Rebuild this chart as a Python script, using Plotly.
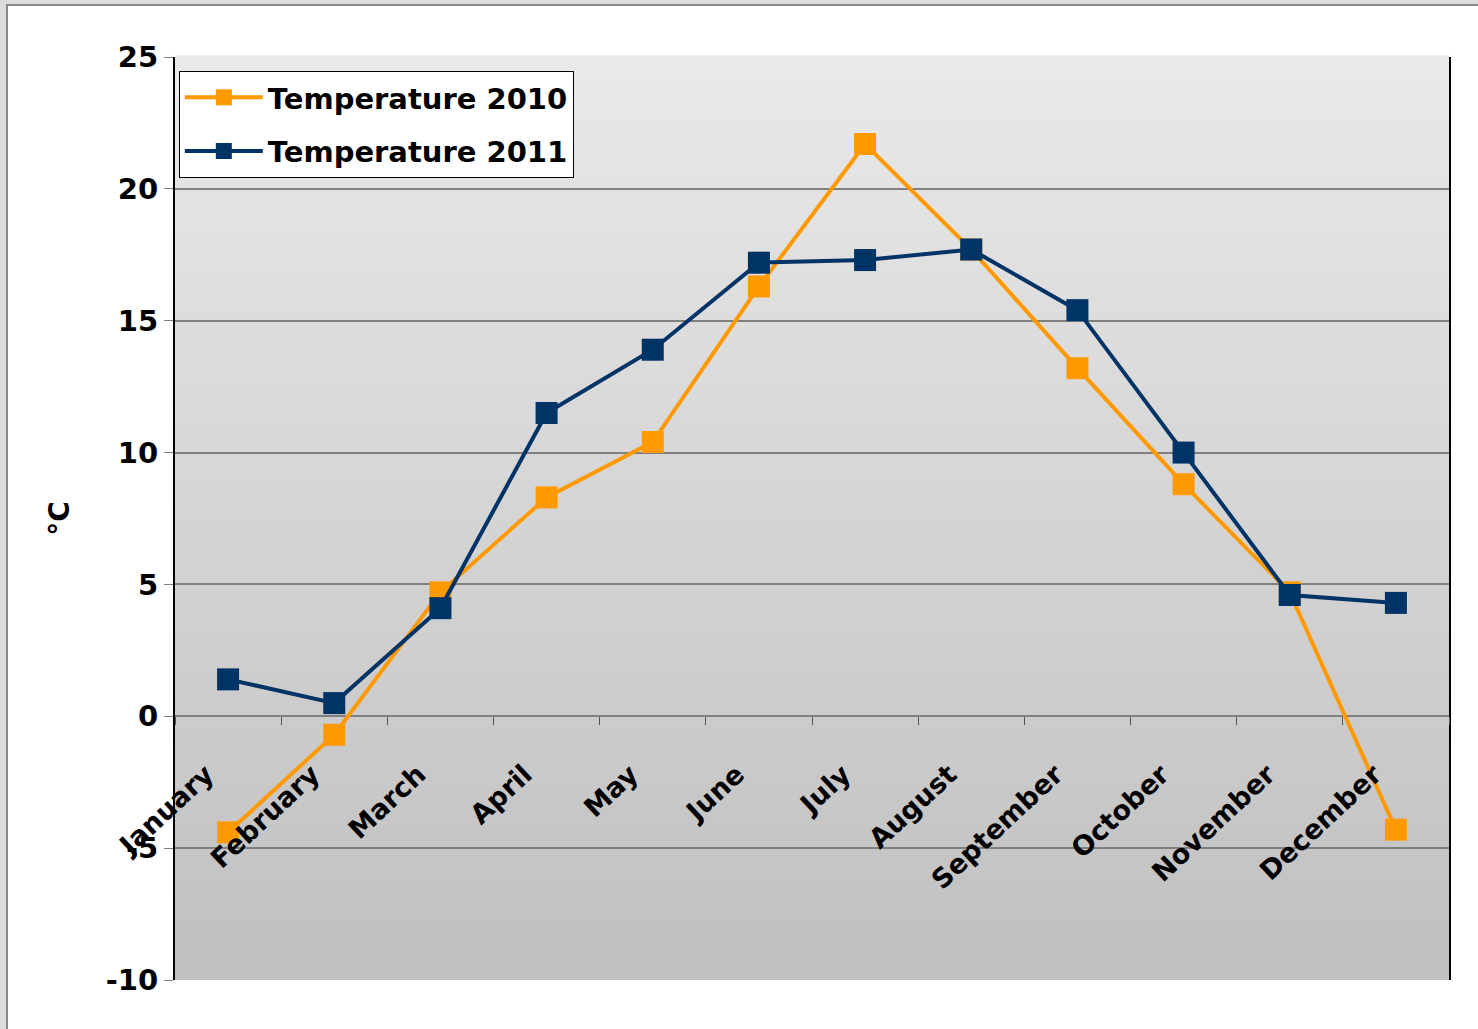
"""plot.py — monthly mean temperature, 2010 vs 2011, as an office-style line chart."""

from __future__ import annotations

import plotly.graph_objects as go

# ---------------------------------------------------------------------------
# Data
# ---------------------------------------------------------------------------

MONTHS = [
    "January", "February", "March", "April", "May", "June",
    "July", "August", "September", "October", "November", "December",
]
TEMP_2010 = [-4.4, -0.7, 4.7, 8.3, 10.4, 16.3, 21.7, 17.7, 13.2, 8.8, 4.7, -4.3]
TEMP_2011 = [1.4, 0.5, 4.1, 11.5, 13.9, 17.2, 17.3, 17.7, 15.4, 10.0, 4.6, 4.3]
Y_TICKS = [-10, -5, 0, 5, 10, 15, 20, 25]

# ---------------------------------------------------------------------------
# Style
# ---------------------------------------------------------------------------

COLOR_2010 = "#ff9900"
COLOR_2011 = "#003366"
COLOR_GRID = "#808080"
BG_TOP = (233, 233, 233)
BG_BOTTOM = (192, 192, 192)
FONT = "DejaVu Sans"

W, H = 1478, 1029
M_L, M_R, M_T, M_B = 175, 29, 57, 49


def _px_to_paper(px: float, py: float) -> tuple[float, float]:
    """Convert page pixels to paper coordinates of the plot area."""
    pw = W - M_L - M_R
    ph = H - M_T - M_B
    return (px - M_L) / pw, (H - M_B - py) / ph


def _gradient_shapes(n: int = 90) -> list[dict]:
    """Stack thin bands to fake the vertical grey gradient of the plot area."""
    shapes = []
    for i in range(n):
        t = i / (n - 1)
        rgb = [round(b + (a - b) * t) for a, b in zip(BG_TOP, BG_BOTTOM)]
        shapes.append(
            {
                "type": "rect",
                "xref": "paper",
                "yref": "paper",
                "x0": 0,
                "x1": 1,
                "y0": i / n,
                "y1": (i + 1) / n + 0.002,
                "fillcolor": "rgb({},{},{})".format(*rgb),
                "line": {"width": 0},
                "layer": "below",
            }
        )
    return shapes


def _frame_shapes() -> list[dict]:
    """White page with a grey frame on the left and top edges."""
    x0, y0 = _px_to_paper(7, 5)
    x1, y1 = _px_to_paper(W + 5, H + 5)
    return [
        {
            "type": "rect",
            "xref": "paper",
            "yref": "paper",
            "x0": x0,
            "x1": x1,
            "y0": y1,
            "y1": y0,
            "fillcolor": "white",
            "line": {"color": "#8a8a8a", "width": 2},
            "layer": "below",
        }
    ]


def _line_trace(name: str, values: list[float], color: str) -> go.Scatter:
    return go.Scatter(
        x=MONTHS,
        y=values,
        name=name,
        legendgroup=name,
        mode="lines+markers",
        line={"color": color, "width": 4},
        marker={"color": color, "symbol": "square", "size": 22},
    )


# ---------------------------------------------------------------------------
# Figure
# ---------------------------------------------------------------------------

fig = go.Figure(
    data=[
        _line_trace("Temperature 2010", TEMP_2010, COLOR_2010),
        _line_trace("Temperature 2011", TEMP_2011, COLOR_2011),
    ]
)

zero_pos = (0 - Y_TICKS[0]) / (Y_TICKS[-1] - Y_TICKS[0])

fig.update_layout(
    width=W,
    height=H,
    margin={"l": M_L, "r": M_R, "t": M_T, "b": M_B, "autoexpand": False},
    paper_bgcolor="#dcdcdc",
    plot_bgcolor="rgba(0,0,0,0)",
    font={"family": FONT, "color": "black", "weight": "bold"},
    shapes=_frame_shapes() + _gradient_shapes(),
    legend={
        "x": 0.003,
        "y": 0.985,
        "xanchor": "left",
        "yanchor": "top",
        "bgcolor": "white",
        "bordercolor": "black",
        "borderwidth": 1,
        "font": {"family": FONT, "size": 29, "weight": "bold"},
        "itemwidth": 78,
        "tracegroupgap": 13,
    },
    xaxis={
        "type": "category",
        "range": [-0.5, len(MONTHS) - 0.5],
        "anchor": "free",
        "position": zero_pos,
        "showgrid": False,
        "showline": False,
        "ticks": "outside",
        "tickson": "boundaries",
        "ticklen": 8,
        "tickcolor": "#555555",
        "tickangle": -43,
        "tickfont": {"family": FONT, "size": 27, "weight": "bold"},
        "ticklabelstandoff": 36,
        "ticklabelshift": -22,
        "automargin": False,
    },
    yaxis={
        "range": [Y_TICKS[0], Y_TICKS[-1]],
        "tickvals": Y_TICKS,
        "ticktext": [str(v) for v in Y_TICKS],
        "showgrid": True,
        "gridcolor": COLOR_GRID,
        "gridwidth": 1.5,
        "zeroline": True,
        "zerolinecolor": COLOR_GRID,
        "zerolinewidth": 1.5,
        "showline": True,
        "linecolor": "black",
        "linewidth": 2,
        "mirror": True,
        "ticks": "outside",
        "ticklen": 9,
        "tickcolor": COLOR_GRID,
        "tickfont": {"family": FONT, "size": 29, "weight": "bold"},
        "title": {
            "text": "°C",
            "font": {"family": FONT, "size": 28, "weight": "bold"},
            "standoff": 28,
        },
        "automargin": False,
    },
)

# the page body's default 8px margin would shift the chart; drop it
fig.write_html(
    "out.html",
    config={"displayModeBar": False},
    post_script="document.body.style.margin = '0';",
)
